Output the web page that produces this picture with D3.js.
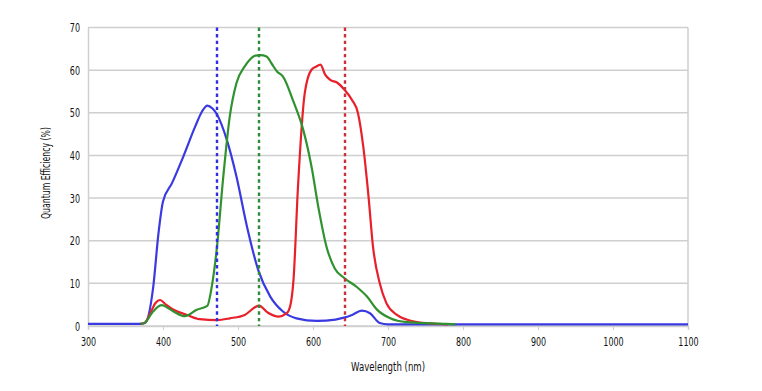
<!DOCTYPE html>
<html>
<head>
<meta charset="utf-8">
<script src="https://cdn.jsdelivr.net/npm/d3@7"></script>
<style>
body { margin: 0; background: #fff; }
text { font-family: "DejaVu Sans", sans-serif; fill: #111; }
</style>
</head>
<body>
<div class="chart"></div>
<script>
// wavelength (nm) / quantum efficiency (%)
const blue_wl = [300, 340, 370, 376, 387, 394, 400, 412, 427, 443, 452, 459, 466, 472, 485, 498, 512, 527, 543, 560, 578, 605, 630, 640, 652, 665, 676, 689, 700, 800, 900, 1000, 1100]
const blue_qe = [0.5, 0.5, 0.5, 0.7, 9.2, 21.8, 29.2, 33.5, 39.7, 46.8, 50.3, 51.7, 51.0, 49.6, 43.7, 35, 23.3, 13.1, 6.9, 3.4, 1.8, 1.2, 1.5, 1.9, 2.6, 3.6, 3.0, 0.7, 0.4, 0.4, 0.4, 0.4, 0.4]

const red_wl = [370, 376, 383, 390, 396, 404, 414, 432, 449, 472, 489, 509, 528, 540, 554, 565, 570, 574, 580, 589, 598, 604, 610, 616, 623, 632, 642, 652, 660, 667, 674, 680, 689, 698, 712, 729, 756, 780]
const red_qe = [0.5, 0.8, 3, 5.4, 6.1, 5.0, 3.8, 2.6, 1.6, 1.4, 1.8, 2.6, 4.8, 3.1, 2.2, 3.0, 5, 10.8, 32.7, 54.6, 60.1, 60.8, 61.3, 59, 57.7, 57.1, 55.4, 53, 49.9, 42.1, 30.4, 18.6, 10, 5.3, 2.6, 1.3, 0.6, 0.4]

const green_wl = [370, 376, 385, 398, 414, 429, 445, 459, 465, 472, 480, 489, 498, 509, 516, 523, 530, 538, 545, 552, 560, 574, 587, 598, 607, 618, 629, 642, 658, 672, 685, 703, 725, 778, 790]
const green_qe = [0.5, 0.8, 3, 4.9, 3.4, 2.3, 3.8, 4.7, 9.2, 18.6, 34.3, 49.1, 57, 60.9, 62.5, 63.4, 63.5, 63.2, 61.5, 59.7, 58.5, 52.6, 46, 37.4, 28, 18.6, 13.5, 11.2, 9.2, 6.9, 3.9, 1.8, 0.9, 0.5, 0.4]

// dotted reference wavelengths
const marker_wl = [472, 528, 642]
const marker_colors = ["#3030e0", "#2e8b3a", "#cc303a"]

const x_ticks = [300, 400, 500, 600, 700, 800, 900, 1000, 1100]
const y_ticks = [0, 10, 20, 30, 40, 50, 60, 70]

const width = 762
const height = 391
const squeeze = 0.64   // the original uses a condensed face
const svg = d3.select(".chart").append("svg").attr("width", width).attr("height", height)

const x_scale = d3.scaleLinear().domain([300, 1100]).range([88, 688])
const y_scale = d3.scaleLinear().domain([0, 70]).range([326, 27.5])

// grid
svg.append("g").selectAll("line")
    .data(y_ticks)
    .join("line")
    .attr("x1", 88).attr("x2", 688)
    .attr("y1", d => y_scale(d)).attr("y2", d => y_scale(d))
    .attr("stroke", "#cfcfcf").attr("stroke-width", 1.5)

svg.append("line").attr("x1", 688).attr("x2", 688).attr("y1", y_scale(70)).attr("y2", y_scale(0))
    .attr("stroke", "#cfcfcf").attr("stroke-width", 1.5)

const x_axis = svg.append("g").attr("transform", "translate(0," + y_scale(0) + ")")
    .call(d3.axisBottom(x_scale).tickValues(x_ticks).tickFormat(d3.format("d")).tickSize(4).tickPadding(7))
x_axis.select(".domain").attr("stroke", "#cfcfcf").attr("stroke-width", 1.5)
x_axis.selectAll(".tick line").attr("stroke", "#cfcfcf")
x_axis.selectAll("text").attr("font-size", 12.5).attr("fill", "#111")
    .attr("transform", "scale(" + squeeze + ",1)")

const y_axis = svg.append("g").attr("transform", "translate(88,0)")
    .call(d3.axisLeft(y_scale).tickValues(y_ticks).tickSize(0).tickPadding(8))
y_axis.select(".domain").attr("stroke", "#cfcfcf").attr("stroke-width", 1.5)
y_axis.selectAll("text").attr("font-size", 12.5).attr("fill", "#111")
    .attr("x", -8 / squeeze)
    .attr("transform", "scale(" + squeeze + ",1)")

svg.append("text")
    .attr("x", 388).attr("y", 371)
    .attr("text-anchor", "middle")
    .attr("font-size", 12.5)
    .attr("textLength", 74).attr("lengthAdjust", "spacingAndGlyphs")
    .text("Wavelength (nm)")

svg.append("text")
    .attr("transform", "translate(50,173) rotate(-90)")
    .attr("text-anchor", "middle")
    .attr("font-size", 12.5)
    .attr("textLength", 92).attr("lengthAdjust", "spacingAndGlyphs")
    .text("Quantum Efficiency (%)")

const line = d3.line()
    .x(d => x_scale(d[0]))
    .y(d => y_scale(d[1]))
    .curve(d3.curveMonotoneX)

const series = [
    { wl: blue_wl, qe: blue_qe, color: "#3a3ae0" },
    { wl: red_wl, qe: red_qe, color: "#e8202a" },
    { wl: green_wl, qe: green_qe, color: "#2f922f" }
]

svg.selectAll("path.curve")
    .data(series)
    .join("path")
    .attr("class", "curve")
    .attr("d", s => line(d3.zip(s.wl, s.qe)))
    .attr("fill", "none")
    .attr("stroke", s => s.color)
    .attr("stroke-width", 2.2)

svg.selectAll("line.marker")
    .data(marker_wl)
    .join("line")
    .attr("class", "marker")
    .attr("x1", d => Math.round(x_scale(d))).attr("x2", d => Math.round(x_scale(d)))
    .attr("y1", y_scale(70)).attr("y2", y_scale(0))
    .attr("stroke", (d, i) => marker_colors[i])
    .attr("stroke-width", 2.4)
    .attr("stroke-dasharray", "3.4,3.2")
</script>
</body>
</html>
